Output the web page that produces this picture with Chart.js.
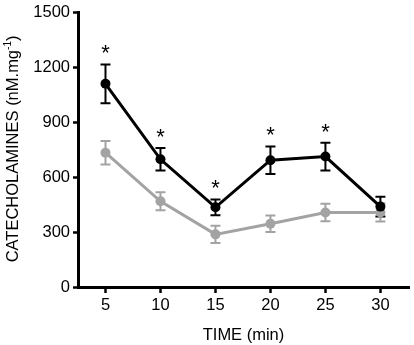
<!DOCTYPE html>
<html>
<head>
<meta charset="utf-8">
<script src="https://cdn.jsdelivr.net/npm/chart.js@4.4.1/dist/chart.umd.min.js"></script>
<style>
  html, body { margin: 0; padding: 0; background: #fff; }
</style>
</head>
<body>
<canvas id="chart" width="414" height="345"></canvas>
<script>
const times = [5, 10, 15, 20, 25, 30];
const treatedMean = [1112, 699, 436, 694, 714, 440];
const treatedSem = [106, 62, 43, 75, 76, 54];
const controlMean = [735, 469, 288, 346, 408, 408];
const controlSem = [64, 49, 47, 45, 48, 50];
const significant = [true, true, true, true, true, false];
const yTicks = [0, 300, 600, 900, 1200, 1500];

const FONT = "'Liberation Sans', Arial, Helvetica, sans-serif";

// error bars under the points, stars above the black series
const errorBars = {
  id: "errorBars",
  beforeDatasetsDraw(chart) {
    const { ctx, scales: { x, y } } = chart;
    chart.data.datasets.forEach((ds) => {
      ctx.save();
      ctx.strokeStyle = ds.borderColor;
      ctx.lineWidth = 2;
      ds.data.forEach((p, i) => {
        const px = x.getPixelForValue(p.x);
        const top = y.getPixelForValue(p.y + ds.sem[i]);
        const bot = y.getPixelForValue(p.y - ds.sem[i]);
        ctx.beginPath();
        ctx.moveTo(px, top);
        ctx.lineTo(px, bot);
        ctx.moveTo(px - 5, top);
        ctx.lineTo(px + 5, top);
        ctx.moveTo(px - 5, bot);
        ctx.lineTo(px + 5, bot);
        ctx.stroke();
      });
      ctx.restore();
    });
  },
  afterDatasetsDraw(chart) {
    const { ctx, scales: { x, y } } = chart;
    ctx.save();
    ctx.fillStyle = "#000";
    ctx.font = "22px " + FONT;
    ctx.textAlign = "center";
    ctx.textBaseline = "alphabetic";
    times.forEach((t, i) => {
      if (!significant[i]) return;
      const top = y.getPixelForValue(treatedMean[i] + treatedSem[i]);
      ctx.fillText("*", x.getPixelForValue(t), top - 4);
    });
    ctx.restore();
  },
};

// y title with superscript
const yTitle = {
  id: "yTitle",
  afterDraw(chart) {
    const { ctx, chartArea } = chart;
    const main = "CATECHOLAMINES (nM.mg";
    const sup = "-1";
    const end = ")";
    ctx.save();
    ctx.fillStyle = "#000";
    ctx.textBaseline = "alphabetic";
    ctx.font = "16.5px " + FONT;
    const wMain = ctx.measureText(main).width;
    const wEnd = ctx.measureText(end).width;
    ctx.font = "10px " + FONT;
    const wSup = ctx.measureText(sup).width;
    const total = wMain + wSup + wEnd;
    ctx.translate(18, (chartArea.top + chartArea.bottom) / 2 - 1);
    ctx.rotate(-Math.PI / 2);
    let cx = -total / 2;
    ctx.font = "16.5px " + FONT;
    ctx.fillText(main, cx, 0);
    cx += wMain;
    ctx.font = "10px " + FONT;
    ctx.fillText(sup, cx, -7);
    cx += wSup;
    ctx.font = "16.5px " + FONT;
    ctx.fillText(end, cx, 0);
    ctx.restore();
  },
};

const ctx = document.getElementById("chart").getContext("2d");

new Chart(ctx, {
  type: "line",
  data: {
    datasets: [
      {
        label: "treated",
        data: times.map((t, i) => ({ x: t, y: treatedMean[i] })),
        sem: treatedSem,
        borderColor: "#000000",
        backgroundColor: "#000000",
        borderWidth: 3,
        pointRadius: 5,
        pointBorderWidth: 0,
        tension: 0,
      },
      {
        label: "control",
        data: times.map((t, i) => ({ x: t, y: controlMean[i] })),
        sem: controlSem,
        borderColor: "#a3a3a3",
        backgroundColor: "#a3a3a3",
        borderWidth: 3,
        pointRadius: 5,
        pointBorderWidth: 0,
        tension: 0,
      },
    ],
  },
  options: {
    responsive: false,
    animation: false,
    layout: { padding: { top: 11, right: 1, left: 0, bottom: 0 } },
    plugins: {
      legend: { display: false },
      tooltip: { enabled: false },
    },
    scales: {
      x: {
        type: "linear",
        min: 2.5,
        max: 32.6,
        afterBuildTicks: (scale) => {
          scale.ticks = times.map((v) => ({ value: v }));
        },
        afterFit: (scale) => {
          scale.height = 58;
        },
        grid: {
          drawOnChartArea: false,
          drawTicks: true,
          tickLength: 6,
          tickWidth: 2.5,
          tickColor: "#000",
        },
        border: { display: true, color: "#000", width: 3 },
        ticks: {
          color: "#000",
          font: { family: FONT, size: 16.5 },
          padding: 3,
          maxRotation: 0,
          callback: (v) => String(v),
        },
        title: {
          display: true,
          text: "TIME (min)",
          color: "#000",
          font: { family: FONT, size: 16.5 },
          padding: { top: 0, bottom: 0 },
        },
      },
      y: {
        min: 0,
        max: 1500,
        afterBuildTicks: (scale) => {
          scale.ticks = yTicks.map((v) => ({ value: v }));
        },
        afterFit: (scale) => {
          scale.width = 78;
        },
        grid: {
          drawOnChartArea: false,
          drawTicks: true,
          tickLength: 5,
          tickWidth: 2.5,
          tickColor: "#000",
        },
        border: { display: true, color: "#000", width: 3 },
        ticks: {
          color: "#000",
          font: { family: FONT, size: 16.5 },
          padding: 3,
          callback: (v) => String(v),
        },
        title: { display: false },
      },
    },
  },
  plugins: [errorBars, yTitle],
});
</script>
</body>
</html>
